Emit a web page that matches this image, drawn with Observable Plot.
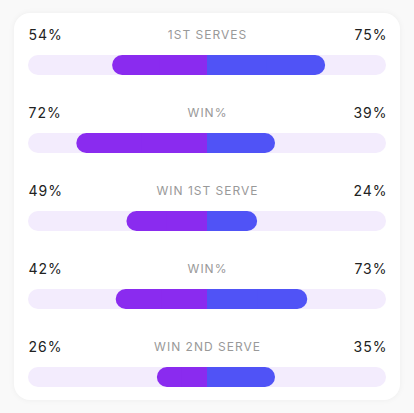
<!DOCTYPE html>
<html>
<head>
<meta charset="utf-8">
<script src="https://cdn.jsdelivr.net/npm/d3@7"></script>
<script src="https://cdn.jsdelivr.net/npm/@observablehq/plot@0.6"></script>
<style>
  html, body { margin: 0; padding: 0; background: #f9f9f9; }
  #wrap { position: relative; width: 414px; height: 413px; overflow: hidden; }
  #card { position: absolute; left: 14px; top: 13px; width: 386px; height: 387px;
          background: #ffffff; border-radius: 16px;
          box-shadow: 0 0 6px rgba(0,0,0,0.05); }
  #chart { position: absolute; left: 0; top: 0; }
</style>
</head>
<body>
<div id="wrap"><div id="card"></div><div id="chart"></div></div>
<script>
const categories = ["1ST SERVES", "WIN%", "WIN 1ST SERVE", "WIN%", "WIN 2ND SERVE"];
const leftValues = [54, 72, 49, 42, 26];
const rightValues = [75, 39, 24, 73, 35];
// bar extents (% of half track)
const leftBar = [53, 73, 45, 51, 28];
const rightBar = [66, 38, 28, 56, 38];
const trackMax = 100;

const data = categories.map((c, i) => ({
  row: i, label: c, left: leftValues[i], right: rightValues[i], lb: leftBar[i], rb: rightBar[i]
}));

const purple = "#8a2bef";
const blue = "#5053f6";
const track = "#f3ecfd";
const barOpts = {y: "row", insetTop: 29, insetBottom: 29};

const plot = Plot.plot({
  width: 414,
  height: 413,
  margin: 0,
  style: {background: "transparent", fontFamily: "Inter, 'Noto Sans', sans-serif", letterSpacing: "1px"},
  x: {domain: [-trackMax, trackMax], range: [28, 386], axis: null},
  y: {domain: data.map(d => d.row), range: [26, 416], padding: 0, axis: null},
  marks: [
    Plot.barX(data, {...barOpts, x1: -trackMax, x2: trackMax, fill: track, rx: 10}),
    Plot.barX(data, {...barOpts, x1: d => -d.lb, x2: 0, fill: purple, rx: 10}),
    Plot.barX(data, {...barOpts, x1: d => -d.lb / 2, x2: 0, fill: purple}),
    Plot.barX(data, {...barOpts, x1: 0, x2: d => d.rb, fill: blue, rx: 10}),
    Plot.barX(data, {...barOpts, x1: 0, x2: d => d.rb / 2, fill: blue}),
    Plot.text(data, {x: -trackMax, y: "row", dy: -30, text: d => d.left + "%", textAnchor: "start", fontSize: 14, fill: "#222"}),
    Plot.text(data, {x: trackMax, y: "row", dy: -30, dx: 1, text: d => d.right + "%", textAnchor: "end", fontSize: 14, fill: "#222"}),
    Plot.text(data, {x: 0, y: "row", dy: -30, text: "label", textAnchor: "middle", fontSize: 12, fill: "#999"})
  ]
});
document.getElementById("chart").appendChild(plot);
</script>
</body>
</html>
